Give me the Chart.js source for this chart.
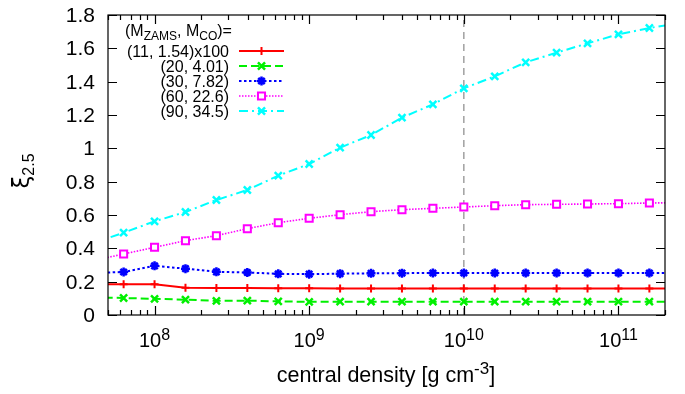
<!DOCTYPE html>
<html>
<head>
<meta charset="utf-8">
<script src="https://cdn.jsdelivr.net/npm/chart.js@4/dist/chart.umd.min.js"></script>
<style>
html, body { margin: 0; padding: 0; background: #fff; }
canvas { display: block; }
</style>
</head>
<body>
<canvas id="chart" width="685" height="394"></canvas>
<script>
// log10 of the central density for each model
const densityExp = [7.6, 7.8, 8.0, 8.2, 8.4, 8.6, 8.8, 9.0, 9.2, 9.4, 9.6, 9.8, 10.0, 10.2, 10.4, 10.6, 10.8, 11.0, 11.2, 11.4];

// compactness xi_2.5 per model (first one scaled by 100)
const xi11 = [0.184, 0.184, 0.184, 0.164, 0.162, 0.162, 0.160, 0.160, 0.159, 0.159, 0.159, 0.159, 0.159, 0.159, 0.159, 0.159, 0.159, 0.159, 0.159, 0.159];
const xi20 = [0.106, 0.102, 0.097, 0.092, 0.085, 0.086, 0.082, 0.079, 0.080, 0.080, 0.080, 0.080, 0.080, 0.080, 0.080, 0.080, 0.080, 0.080, 0.080, 0.080];
const xi30 = [0.252, 0.258, 0.295, 0.278, 0.259, 0.255, 0.247, 0.245, 0.248, 0.250, 0.251, 0.252, 0.252, 0.252, 0.252, 0.252, 0.252, 0.252, 0.252, 0.252];
const xi60 = [0.326, 0.366, 0.406, 0.446, 0.476, 0.518, 0.554, 0.580, 0.602, 0.620, 0.632, 0.640, 0.648, 0.656, 0.662, 0.664, 0.666, 0.668, 0.672, 0.674];
const xi90 = [0.430, 0.494, 0.562, 0.618, 0.690, 0.750, 0.836, 0.906, 1.004, 1.080, 1.184, 1.264, 1.360, 1.432, 1.516, 1.574, 1.630, 1.684, 1.722, 1.753];

const seriesLabels = ['(11, 1.54)x100', '(20, 4.01)', '(30, 7.82)', '(60, 22.6)', '(90, 34.5)'];

// axis ticks
const yTicks = [0, 0.2, 0.4, 0.6, 0.8, 1, 1.2, 1.4, 1.6, 1.8];
const xDecades = [8, 9, 10, 11];
const xMin = 5e7, xMax = 2e11;
const markerDensity = 1e10;

const FONT = '"Liberation Sans", Arial, Helvetica, sans-serif';

function toPoints(values) {
    return values.map((v, i) => ({ x: Math.pow(10, densityExp[i]), y: v }));
}

// Series styles, gnuplot like
const styles = [
    { color: '#ff0000', dash: [], width: 2, point: 'cross', radius: 4, pw: 2, bg: '#ff0000' },
    { color: '#00f000', dash: [8, 4], width: 2, point: 'crossRot', radius: 5, pw: 2.5, bg: '#00f000' },
    { color: '#0000ff', dash: [2.5, 2.5], width: 2, point: 'star', radius: 4.5, pw: 2.5, bg: '#0000ff' },
    { color: '#ff00ff', dash: [1.5, 1.5], width: 1.6, point: 'rect', radius: 5, pw: 2, bg: '#ffffff' },
    { color: '#00ffff', dash: [9, 4, 2, 4], width: 2, point: 'crossRot', radius: 5, pw: 2.5, bg: '#00ffff' }
];
const seriesValues = [xi11, xi20, xi30, xi60, xi90];

const datasets = seriesValues.map((vals, i) => ({
    label: seriesLabels[i],
    data: toPoints(vals),
    borderColor: styles[i].color,
    backgroundColor: styles[i].bg,
    borderWidth: styles[i].width,
    borderDash: styles[i].dash,
    pointStyle: styles[i].point,
    pointRadius: styles[i].radius,
    pointBorderWidth: styles[i].pw,
    pointBorderColor: styles[i].color,
    pointBackgroundColor: styles[i].bg,
    tension: 0,
    order: i
}));

// dashed vertical marker line
datasets.push({
    label: 'marker',
    data: [{ x: markerDensity, y: 0 }, { x: markerDensity, y: 1.8 }],
    borderColor: '#a0a0a0',
    borderWidth: 1.5,
    borderDash: [7, 5],
    pointRadius: 0,
    order: 20
});

// Draw frame, ticks, labels and key
const gnuplotFrame = {
    id: 'gnuplotFrame',
    afterDraw(chart) {
        const ctx = chart.ctx;
        const area = chart.chartArea;
        const xs = chart.scales.x;
        const ys = chart.scales.y;
        ctx.save();

        // border
        ctx.strokeStyle = '#000';
        ctx.lineWidth = 1.2;
        ctx.setLineDash([]);
        ctx.strokeRect(area.left, area.top, area.right - area.left, area.bottom - area.top);

        // y ticks
        ctx.fillStyle = '#000';
        ctx.font = '21px ' + FONT;
        ctx.textAlign = 'right';
        ctx.textBaseline = 'middle';
        yTicks.forEach(v => {
            const py = Math.round(ys.getPixelForValue(v)) + 0.5;
            ctx.beginPath();
            ctx.moveTo(area.left, py); ctx.lineTo(area.left + 9, py);
            ctx.moveTo(area.right, py); ctx.lineTo(area.right - 9, py);
            ctx.stroke();
            ctx.fillText(String(v), area.left - 13, py + 1);
        });

        // x ticks, major and minor
        for (let d = 7; d <= 11; d++) {
            for (let m = 1; m <= 9; m++) {
                const val = m * Math.pow(10, d);
                if (val < xMin || val > xMax) continue;
                const px = Math.round(xs.getPixelForValue(val)) + 0.5;
                const len = m === 1 ? 9 : 5;
                ctx.beginPath();
                ctx.moveTo(px, area.bottom); ctx.lineTo(px, area.bottom - len);
                ctx.moveTo(px, area.top); ctx.lineTo(px, area.top + len);
                ctx.stroke();
            }
        }

        // x labels 10^n
        ctx.textBaseline = 'alphabetic';
        xDecades.forEach(e => {
            const px = xs.getPixelForValue(Math.pow(10, e));
            ctx.font = '20px ' + FONT;
            const wBase = ctx.measureText('10').width;
            ctx.font = '16px ' + FONT;
            const wExp = ctx.measureText(String(e)).width;
            const start = px - (wBase + wExp) / 2;
            ctx.textAlign = 'left';
            ctx.font = '20px ' + FONT;
            ctx.fillText('10', start, 347);
            ctx.font = '16px ' + FONT;
            ctx.fillText(String(e), start + wBase, 340);
        });

        // x title with superscript
        const parts = [
            { t: 'central density [g cm', f: 21.5, dy: 0 },
            { t: '-3', f: 17, dy: -8 },
            { t: ']', f: 21.5, dy: 0 }
        ];
        let total = 0;
        parts.forEach(p => { ctx.font = p.f + 'px ' + FONT; p.w = ctx.measureText(p.t).width; total += p.w; });
        let cx = 386 - total / 2;
        parts.forEach(p => {
            ctx.font = p.f + 'px ' + FONT;
            ctx.fillText(p.t, cx, 382 + p.dy);
            cx += p.w;
        });

        // y title xi_2.5
        ctx.save();
        ctx.translate(29, 171);
        ctx.rotate(-Math.PI / 2);
        ctx.font = '23px "DejaVu Sans", ' + FONT;
        const wXi = ctx.measureText('ξ').width;
        ctx.font = '16px ' + FONT;
        const wSub = ctx.measureText('2.5').width;
        const s0 = -(wXi + wSub) / 2;
        ctx.font = '23px "DejaVu Sans", ' + FONT;
        ctx.fillText('ξ', s0, 0);
        ctx.font = '16px ' + FONT;
        ctx.fillText('2.5', s0 + wXi, 5);
        ctx.restore();

        // key title
        const keyParts = [
            { t: '(M', f: 16, dy: 0 },
            { t: 'ZAMS', f: 12, dy: 4 },
            { t: ', M', f: 16, dy: 0 },
            { t: 'CO', f: 12, dy: 4 },
            { t: ')=', f: 16, dy: 0 }
        ];
        let kx = 125;
        keyParts.forEach(p => {
            ctx.font = p.f + 'px ' + FONT;
            ctx.fillText(p.t, kx, 36 + p.dy);
            kx += ctx.measureText(p.t).width;
        });

        // key entries
        ctx.font = '16px ' + FONT;
        ctx.textAlign = 'right';
        seriesLabels.forEach((lab, i) => {
            const yc = 51 + i * 15;
            const st = styles[i];
            ctx.fillStyle = '#000';
            ctx.fillText(lab, 229, yc + 6);
            ctx.strokeStyle = st.color;
            ctx.lineWidth = st.width;
            ctx.setLineDash(st.dash);
            ctx.beginPath();
            ctx.moveTo(239, yc); ctx.lineTo(284, yc);
            ctx.stroke();
            ctx.setLineDash([]);
            ctx.fillStyle = st.bg;
            ctx.strokeStyle = st.color;
            ctx.lineWidth = st.pw;
            Chart.helpers.drawPoint(ctx, { pointStyle: st.point, radius: st.radius, rotation: 0, borderWidth: st.pw }, 261.5, yc);
        });

        ctx.restore();
    }
};

const chart = new Chart(document.getElementById('chart').getContext('2d'), {
    type: 'line',
    data: { datasets },
    options: {
        responsive: false,
        animation: false,
        devicePixelRatio: 1,
        layout: { padding: { left: 108, right: 20, top: 15, bottom: 79 } },
        plugins: {
            legend: { display: false },
            tooltip: { enabled: false }
        },
        scales: {
            x: { type: 'logarithmic', min: xMin, max: xMax, display: false },
            y: { type: 'linear', min: 0, max: 1.8, display: false }
        }
    },
    plugins: [gnuplotFrame]
});
</script>
</body>
</html>
